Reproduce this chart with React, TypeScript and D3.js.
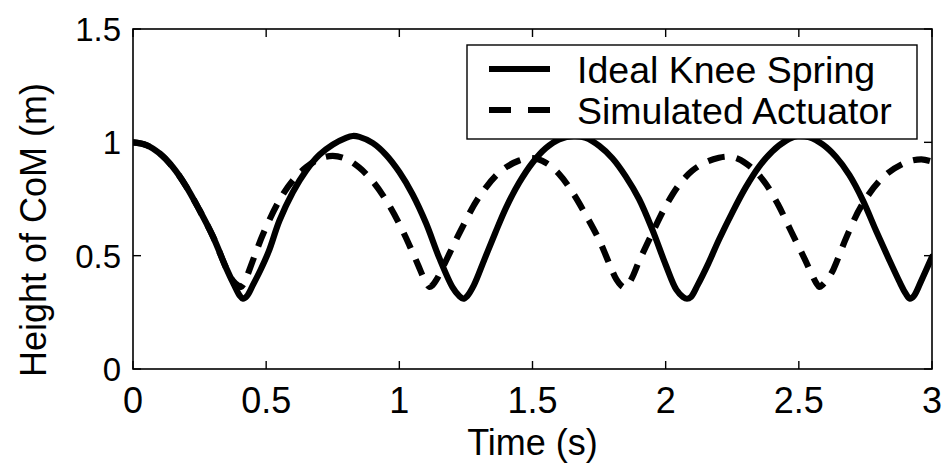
import React from "react";
import * as d3 from "d3";

// Height of the centre of mass over time for the two models
const idealTime = [
  0, 0.05, 0.1, 0.15, 0.2, 0.25, 0.3, 0.35, 0.38, 0.4, 0.413, 0.428, 0.45, 0.48, 0.51,
  0.55, 0.6, 0.65, 0.7, 0.75, 0.8, 0.825, 0.85, 0.9, 0.95, 1.0, 1.05, 1.1, 1.15, 1.2,
  1.225, 1.24, 1.255, 1.28, 1.32, 1.36, 1.4, 1.45, 1.5, 1.55, 1.6, 1.655, 1.7, 1.75,
  1.8, 1.85, 1.9, 1.95, 2.0, 2.04, 2.065, 2.08, 2.095, 2.12, 2.16, 2.2, 2.25, 2.3,
  2.35, 2.4, 2.45, 2.495, 2.54, 2.59, 2.64, 2.69, 2.74, 2.79, 2.84, 2.88, 2.9, 2.917,
  2.932, 2.96, 3.0,
];
const idealHeight = [
  1.0, 0.988, 0.951, 0.89, 0.805, 0.7, 0.585, 0.445, 0.37, 0.325, 0.31, 0.322, 0.37, 0.44, 0.52,
  0.655, 0.78, 0.875, 0.945, 0.99, 1.02, 1.028, 1.024, 0.997, 0.945, 0.869, 0.77, 0.644, 0.49, 0.36,
  0.322, 0.31, 0.322, 0.37, 0.485, 0.6, 0.71, 0.822, 0.91, 0.974, 1.013, 1.028, 1.02, 0.985,
  0.93, 0.85, 0.75, 0.615, 0.46, 0.35, 0.318, 0.31, 0.318, 0.37, 0.465, 0.57, 0.69, 0.8,
  0.892, 0.96, 1.006, 1.028, 1.022, 0.99, 0.935, 0.855, 0.745, 0.61, 0.48, 0.38, 0.335, 0.31,
  0.322, 0.39, 0.495,
];

const actuatorTime = [
  0, 0.05, 0.1, 0.15, 0.2, 0.25, 0.3, 0.35, 0.375, 0.395, 0.405, 0.418, 0.43, 0.46, 0.49,
  0.55, 0.6, 0.65, 0.7, 0.75, 0.8, 0.85, 0.9, 0.95, 1.0, 1.04, 1.07, 1.09, 1.103, 1.113,
  1.125, 1.14, 1.17, 1.23, 1.3, 1.38, 1.45, 1.5, 1.55, 1.6, 1.65, 1.7, 1.75, 1.79,
  1.815, 1.833, 1.845, 1.857, 1.875, 1.9, 1.95, 2.0, 2.05, 2.1, 2.15, 2.2, 2.235, 2.27,
  2.32, 2.37, 2.42, 2.47, 2.52, 2.55, 2.565, 2.577, 2.59, 2.61, 2.63, 2.68, 2.74, 2.82,
  2.9, 2.96, 3.0,
];
const actuatorHeight = [
  1.0, 0.988, 0.951, 0.89, 0.805, 0.7, 0.585, 0.445, 0.39, 0.368, 0.362, 0.38, 0.415, 0.51, 0.6,
  0.745, 0.832, 0.89, 0.927, 0.94, 0.927, 0.888, 0.828, 0.745, 0.64, 0.54, 0.46, 0.405, 0.375, 0.362,
  0.37, 0.395, 0.465, 0.61, 0.76, 0.872, 0.92, 0.93, 0.91, 0.86, 0.78, 0.68, 0.57, 0.46,
  0.395, 0.368, 0.36, 0.37, 0.405, 0.475, 0.6, 0.718, 0.812, 0.875, 0.912, 0.932, 0.937, 0.928,
  0.89, 0.827, 0.73, 0.61, 0.49, 0.415, 0.38, 0.362, 0.372, 0.4, 0.44, 0.585, 0.73, 0.85,
  0.91, 0.925, 0.915,
];

const xTicks = [0, 0.5, 1, 1.5, 2, 2.5, 3];
const yTicks = [0, 0.5, 1, 1.5];
const seriesNames = ["Ideal Knee Spring", "Simulated Actuator"];
const xTitle = "Time (s)";
const yTitle = "Height of CoM (m)";

const W = 949;
const H = 474;
const plot = { left: 133, right: 932, top: 29, bottom: 369 };
const FONT = "'Liberation Sans', Arial, Helvetica, sans-serif";
const LINE_W = 6.2;
const DASH = "17 12";

export default function App() {
  const x = d3.scaleLinear().domain([0, 3]).range([plot.left, plot.right]);
  const y = d3.scaleLinear().domain([0, 1.5]).range([plot.bottom, plot.top]);

  const line = d3
    .line<[number, number]>()
    .x((d) => x(d[0]))
    .y((d) => y(d[1]))
    .curve(d3.curveCatmullRom.alpha(0.5));

  const idealPath = line(idealTime.map((t, i) => [t, idealHeight[i]]) as [number, number][]) || "";
  const actuatorPath =
    line(actuatorTime.map((t, i) => [t, actuatorHeight[i]]) as [number, number][]) || "";

  const tickLen = 8;
  const legend = { x0: 467, x1: 917, y0: 45, y1: 139 };
  const rows = [69, 110];

  return (
    <svg
      width={W}
      height={H}
      viewBox={`0 0 ${W} ${H}`}
      style={{ position: "absolute", left: 0, top: 0, background: "#fff" }}
      fontFamily={FONT}
    >
      <rect x={0} y={0} width={W} height={H} fill="#fff" />
      <defs>
        <clipPath id="plot-clip">
          <rect
            x={plot.left}
            y={plot.top}
            width={plot.right - plot.left}
            height={plot.bottom - plot.top}
          />
        </clipPath>
      </defs>

      {/* curves */}
      <g clipPath="url(#plot-clip)" fill="none" stroke="#000" strokeLinejoin="round">
        <path d={actuatorPath} strokeWidth={LINE_W} strokeDasharray={DASH} />
        <path d={idealPath} strokeWidth={LINE_W} strokeLinecap="round" />
      </g>

      {/* axes box */}
      <rect
        x={plot.left}
        y={plot.top}
        width={plot.right - plot.left}
        height={plot.bottom - plot.top}
        fill="none"
        stroke="#000"
        strokeWidth={1.6}
      />

      {/* x ticks (bottom and top, inward) */}
      {xTicks.map((t) => (
        <g key={`xt${t}`} stroke="#000" strokeWidth={1.4}>
          <line x1={x(t)} x2={x(t)} y1={plot.bottom} y2={plot.bottom - tickLen} />
          <line x1={x(t)} x2={x(t)} y1={plot.top} y2={plot.top + tickLen} />
        </g>
      ))}
      {/* y ticks (left and right, inward) */}
      {yTicks.map((v) => (
        <g key={`yt${v}`} stroke="#000" strokeWidth={1.4}>
          <line x1={plot.left} x2={plot.left + tickLen} y1={y(v)} y2={y(v)} />
          <line x1={plot.right} x2={plot.right - tickLen} y1={y(v)} y2={y(v)} />
        </g>
      ))}

      {/* tick labels */}
      {xTicks.map((t) => (
        <text key={`xl${t}`} x={x(t)} y={413} fontSize={36} textAnchor="middle" fill="#000">
          {d3.format("~g")(t)}
        </text>
      ))}
      {yTicks.map((v) => (
        <text
          key={`yl${v}`}
          x={plot.left - 12}
          y={y(v)}
          dy="0.36em"
          fontSize={33}
          textAnchor="end"
          fill="#000"
        >
          {d3.format("~g")(v)}
        </text>
      ))}

      {/* axis titles */}
      <text x={(plot.left + plot.right) / 2} y={455} fontSize={36} textAnchor="middle" fill="#000">
        {xTitle}
      </text>
      <text
        transform={`translate(46, 230) rotate(-90)`}
        fontSize={36}
        textAnchor="middle"
        fill="#000"
      >
        {yTitle}
      </text>

      {/* legend */}
      <rect
        x={legend.x0}
        y={legend.y0}
        width={legend.x1 - legend.x0}
        height={legend.y1 - legend.y0}
        fill="#fff"
        stroke="#000"
        strokeWidth={1.4}
      />
      <line x1={489} x2={550} y1={rows[0]} y2={rows[0]} stroke="#000" strokeWidth={LINE_W} />
      <line
        x1={489}
        x2={550}
        y1={rows[1]}
        y2={rows[1]}
        stroke="#000"
        strokeWidth={LINE_W}
        strokeDasharray="22 17"
      />
      {seriesNames.map((name, i) => (
        <text key={name} x={577} y={rows[i]} dy="0.36em" fontSize={37.5} fill="#000">
          {name}
        </text>
      ))}
    </svg>
  );
}
